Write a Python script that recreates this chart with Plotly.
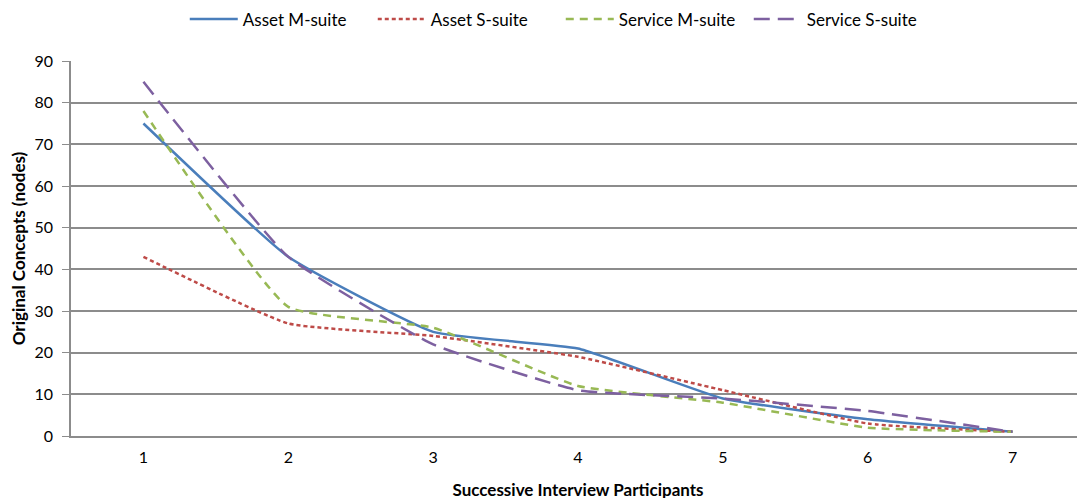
import plotly.graph_objects as go

participants = [1, 2, 3, 4, 5, 6, 7]
asset_m = [75, 43, 25, 21, 9, 4, 1]
asset_s = [43, 27, 24, 19, 11, 3, 1]
service_m = [78, 31, 26, 12, 8, 2, 1]
service_s = [85, 43, 22, 11, 9, 6, 1]

series = [
    ("Asset M-suite", asset_m, "#4A7EBB", "solid"),
    ("Asset S-suite", asset_s, "#BE4B48", "4px,3px"),
    ("Service M-suite", service_m, "#98B954", "8px,6px"),
    ("Service S-suite", service_s, "#7D60A0", "16px,8px"),
]

fig = go.Figure()
for name, vals, color, dash in series:
    fig.add_trace(go.Scatter(
        x=participants, y=vals, name=name, mode="lines",
        line=dict(color=color, width=2.5, dash=dash, shape="spline", smoothing=0.4),
    ))

font = "Lato, 'Open Sans', sans-serif"
fig.update_layout(
    width=1085, height=498,
    margin=dict(l=63, r=8, t=53, b=70, autoexpand=False),
    paper_bgcolor="white", plot_bgcolor="white",
    font=dict(family=font, size=16, color="black"),
    legend=dict(orientation="h", x=0.483, xanchor="center", y=1.111, yanchor="middle",
                font=dict(size=17), itemwidth=48, entrywidth=125, entrywidthmode="pixels"),
    xaxis=dict(
        range=[0.5, 7.5], tickmode="array", tickvals=participants,
        showgrid=False, showline=True, linecolor="#8c8c8c", linewidth=1.5,
        ticks="", ticklabelstandoff=6,
        title=dict(text="<b>Successive Interview Participants</b>", standoff=19,
                   font=dict(size=17)),
        zeroline=False,
    ),
    yaxis=dict(
        range=[0, 90], dtick=10, showgrid=True, gridcolor="#8c8c8c", gridwidth=1.5,
        showline=True, linecolor="#8c8c8c", linewidth=1.5, ticks="outside", ticklen=7,
        tickcolor="#8c8c8c", ticklabelstandoff=6,
        title=dict(text="<b>Original Concepts (nodes)</b>", standoff=10,
                   font=dict(size=17)),
        zeroline=False,
    ),
)
fig.write_html("out.html")
